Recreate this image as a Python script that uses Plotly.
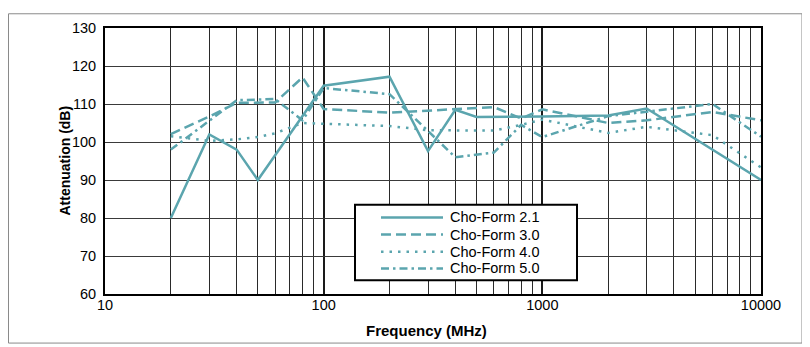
import plotly.graph_objects as go

# ---------------- data ----------------
series_names = ["Cho-Form 2.1", "Cho-Form 3.0", "Cho-Form 4.0", "Cho-Form 5.0"]

freq_21 = [20, 30, 40, 50, 100, 200, 300, 400, 500, 1000, 2000, 3000, 10000]
att_21 = [80, 102, 98, 90, 114.8, 117.2, 97.6, 108.5, 106.6, 106.7, 107, 108.8, 90]

freq_30 = [20, 30, 40, 60, 80, 100, 200, 300, 400, 600, 800, 1000, 2000, 3000, 6000, 10000]
att_30 = [102.1, 106.7, 110.3, 110.4, 117, 108.7, 107.7, 108.2, 108.6, 109.2, 106.2, 108.6, 105, 105.7, 107.9, 105.7]

freq_40 = [20, 30, 40, 50, 60, 80, 100, 200, 300, 400, 600, 800, 1000, 2000, 3000, 6000, 10000]
att_40 = [101.5, 100.3, 100.7, 101.3, 102.3, 105, 104.8, 104.2, 103.1, 103.1, 103, 104.5, 105.9, 102.4, 104, 101.8, 93.3]

freq_50 = [20, 30, 40, 60, 80, 100, 200, 400, 600, 800, 1000, 2000, 3000, 6000, 10000]
att_50 = [98, 105.5, 111, 111.3, 105.7, 114.2, 112.6, 96, 97.2, 104.5, 101.3, 106.8, 108, 110, 101.4]

x_major_ticks = [10, 100, 1000, 10000]
x_major_text = ["10", "100", "1000", "10000"]
x_minor_ticks = [20, 30, 40, 50, 60, 70, 80, 90,
                 200, 300, 400, 500, 600, 700, 800, 900,
                 2000, 3000, 4000, 5000, 6000, 7000, 8000, 9000]
y_ticks = [60, 70, 80, 90, 100, 110, 120, 130]

x_title = "Frequency (MHz)"
y_title = "Attenuation (dB)"

# ---------------- styling ----------------
W, H = 810, 347
OFF = 8  # page offset of the figure (body margin)
PL, PR, PT, PB = 105, 761, 23, 294  # plot-area box in page pixels
LINE_COLOR = "#5ba5ae"
FONT = "Liberation Sans, Arial, sans-serif"
dashes = ["solid", "10px,5px", "2.5px,6px", "8px,4px,2.5px,4px"]


def px_x(px):
    return (px - PL) / (PR - PL)


def px_y(py):
    return (PB - py) / (PB - PT)


fig = go.Figure()
for name, xs, ys, dash in zip(series_names,
                              [freq_21, freq_30, freq_40, freq_50],
                              [att_21, att_30, att_40, att_50],
                              dashes):
    fig.add_trace(go.Scatter(
        x=xs, y=ys, name=name, mode="lines",
        line=dict(color=LINE_COLOR, width=2.5, dash=dash),
        showlegend=False,
    ))

shapes = []
annotations = []

# outer figure frame
shapes.append(dict(type="rect", xref="paper", yref="paper",
                   x0=px_x(8.5), x1=px_x(802), y0=px_y(344), y1=px_y(8.5),
                   line=dict(color="#8a8a8a", width=1), layer="below"))

# legend box
shapes.append(dict(type="rect", xref="paper", yref="paper",
                   x0=px_x(355), x1=px_x(577), y0=px_y(280), y1=px_y(203),
                   line=dict(color="black", width=2), fillcolor="white", layer="above"))
row_y = [216, 233.5, 251, 268]
for name, dash, ry in zip(series_names, dashes, row_y):
    shapes.append(dict(type="line", xref="paper", yref="paper",
                       x0=px_x(381), x1=px_x(443), y0=px_y(ry), y1=px_y(ry),
                       line=dict(color=LINE_COLOR, width=2.5, dash=dash), layer="above"))
    annotations.append(dict(xref="paper", yref="paper", x=px_x(448), y=px_y(ry),
                            xanchor="left", yanchor="middle", showarrow=False,
                            text=name, font=dict(family=FONT, size=14.5, color="black")))

# axis titles
annotations.append(dict(xref="paper", yref="paper", x=px_x(426), y=px_y(331.5),
                        xanchor="center", yanchor="middle", showarrow=False,
                        text="<b>" + x_title + "</b>",
                        font=dict(family=FONT, size=15, color="black")))
annotations.append(dict(xref="paper", yref="paper", x=px_x(65), y=px_y(158),
                        xanchor="center", yanchor="middle", showarrow=False,
                        textangle=-90, text="<b>" + y_title + "</b>",
                        font=dict(family=FONT, size=14, color="black")))

fig.update_layout(
    width=W, height=H,
    margin=dict(l=PL - OFF, r=W - (PR - OFF), t=PT - OFF, b=H - (PB - OFF), pad=0),
    paper_bgcolor="white", plot_bgcolor="white",
    font=dict(family=FONT, size=14.5, color="black"),
    shapes=shapes, annotations=annotations,
    showlegend=False,
)

fig.update_xaxes(
    type="log", range=[1, 4],
    tickmode="array", tickvals=x_major_ticks, ticktext=x_major_text,
    ticks="", ticklabelstandoff=-3,
    showgrid=True, gridcolor="#1a1a1a", gridwidth=1.6,
    minor=dict(tickmode="array", tickvals=x_minor_ticks, showgrid=True,
               gridcolor="#2a2a2a", gridwidth=1, ticks=""),
    showline=True, linecolor="black", linewidth=2, mirror=True,
    zeroline=False,
)
fig.update_yaxes(
    range=[60, 130], tickmode="array", tickvals=y_ticks,
    ticks="", ticklabelstandoff=4,
    showgrid=True, gridcolor="#3a3a3a", gridwidth=1.2,
    showline=True, linecolor="black", linewidth=2, mirror=True,
    zeroline=False,
)

fig.write_html("out.html")
